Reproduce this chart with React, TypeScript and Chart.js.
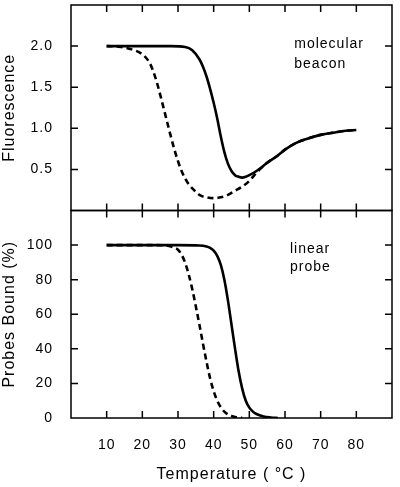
import React, { useEffect, useRef } from "react";
import { Chart, registerables } from "chart.js";

Chart.register(...registerables);

// ---- Data ----
const tempTicks = [10, 20, 30, 40, 50, 60, 70, 80];
const fluorTicks = [0.5, 1.0, 1.5, 2.0];
const boundTicks = [0, 20, 40, 60, 80, 100];

// Top panel: molecular beacon (solid = perfectly matched, dashed = mismatched)
const beaconSolidT = [10, 20, 28, 32, 34, 36, 37, 38, 39, 40, 41, 42, 43, 44, 45, 46, 47, 48, 49, 50, 52, 55, 58, 60, 63, 66, 70, 74, 77, 80];
const beaconSolidF = [2.0, 2.0, 2.0, 1.99, 1.95, 1.84, 1.75, 1.63, 1.48, 1.31, 1.12, 0.90, 0.71, 0.57, 0.48, 0.43, 0.41, 0.40, 0.41, 0.43, 0.48, 0.58, 0.67, 0.74, 0.82, 0.87, 0.92, 0.95, 0.97, 0.98];
const beaconDashT = [10, 14, 17, 20, 22, 23, 24, 25, 26, 27, 28, 29, 30, 31, 32, 33, 34, 36, 38, 40, 42, 44, 46, 48, 50, 52, 55, 58, 60, 63, 66, 70, 74, 77, 80];
const beaconDashF = [2.0, 1.99, 1.96, 1.90, 1.80, 1.70, 1.57, 1.41, 1.24, 1.07, 0.90, 0.74, 0.60, 0.48, 0.39, 0.32, 0.27, 0.19, 0.16, 0.15, 0.16, 0.19, 0.24, 0.29, 0.36, 0.46, 0.58, 0.67, 0.74, 0.82, 0.87, 0.92, 0.95, 0.97, 0.98];

// Bottom panel: linear probe (% bound)
const linearSolidT = [10, 30, 36, 38, 39, 40, 41, 42, 43, 44, 45, 46, 47, 48, 49, 50, 51, 52, 54, 56, 58];
const linearSolidB = [100, 100, 99.8, 99.2, 98.4, 96.8, 93.8, 88.5, 80, 68, 54, 40, 27, 17, 10, 6, 3.7, 2.3, 0.9, 0.3, 0];
const linearDashT = [10, 24, 27, 28, 29, 30, 31, 32, 33, 34, 35, 36, 37, 38, 39, 40, 41, 42, 43, 44, 45, 46, 48];
const linearDashB = [100, 100, 99.6, 99.2, 98.5, 97.3, 94.5, 89.8, 83, 74.5, 64.5, 54, 43, 32.5, 23, 15.5, 10, 6.2, 3.7, 2.1, 1.2, 0.6, 0];

const beaconLabel = ["molecular", "beacon"];
const probeLabel = ["linear", "probe"];
const yTitleTop = "Fluorescence";
const yTitleBottom = "Probes Bound (%)";
const xTitle = "Temperature ( °C )";

const FONT = "'Liberation Sans', Arial, Helvetica, sans-serif";

const pts = (xs: number[], ys: number[]) => xs.map((x, i) => ({ x, y: ys[i] }));

const solidStyle = {
  borderColor: "#000",
  borderWidth: 2.6,
  pointRadius: 0,
  fill: false,
  cubicInterpolationMode: "monotone" as const,
};
const dashStyle = { ...solidStyle, borderDash: [6, 4] };

const noPad = (s: any) => {
  s.paddingTop = 0;
  s.paddingBottom = 0;
  s.paddingLeft = 0;
  s.paddingRight = 0;
};

function framePlugin(yTickVals: number[], label: string[], labelPos: { x: number; y: number; dy: number }) {
  return {
    id: "frame",
    beforeDraw(chart: any) {
      chart.ctx.letterSpacing = "1px";
    },
    afterDatasetsDraw(chart: any) {
      const { ctx, chartArea } = chart;
      const { left, right, top, bottom } = chartArea;
      const x = chart.scales.x;
      const y = chart.scales.y;
      ctx.save();
      ctx.strokeStyle = "#000";
      ctx.lineWidth = 1.5;
      ctx.strokeRect(left, top, right - left, bottom - top);
      ctx.beginPath();
      const L = 7;
      for (const v of tempTicks) {
        const px = x.getPixelForValue(v);
        ctx.moveTo(px, top);
        ctx.lineTo(px, top + L);
        ctx.moveTo(px, bottom);
        ctx.lineTo(px, bottom - L);
      }
      for (const v of yTickVals) {
        if (v <= y.min || v >= y.max) continue;
        const py = y.getPixelForValue(v);
        ctx.moveTo(left, py);
        ctx.lineTo(left + L, py);
        ctx.moveTo(right, py);
        ctx.lineTo(right - L, py);
      }
      ctx.stroke();
      ctx.fillStyle = "#000";
      ctx.font = `14px ${FONT}`;
      ctx.textAlign = "left";
      ctx.textBaseline = "alphabetic";
      const lx = x.getPixelForValue(labelPos.x);
      const ly = y.getPixelForValue(labelPos.y);
      label.forEach((t, i) => ctx.fillText(t, lx, ly + i * labelPos.dy));
      ctx.restore();
    },
  };
}

export default function App() {
  const topRef = useRef<HTMLCanvasElement>(null);
  const botRef = useRef<HTMLCanvasElement>(null);

  useEffect(() => {
    const tickFont = { size: 14, family: FONT };
    const titleFont = { size: 16, family: FONT };

    const top = new Chart(topRef.current!, {
      type: "line",
      data: {
        datasets: [
          { ...solidStyle, data: pts(beaconSolidT, beaconSolidF) },
          { ...dashStyle, data: pts(beaconDashT, beaconDashF) },
        ],
      },
      options: {
        animation: false,
        responsive: false,
        maintainAspectRatio: false,
        layout: { autoPadding: false, padding: { top: 5, right: 8, bottom: 1.5, left: 0 } },
        plugins: { legend: { display: false }, tooltip: { enabled: false } },
        scales: {
          x: { type: "linear", min: 0, max: 90, display: false },
          y: {
            type: "linear",
            min: 0,
            max: 2.5,
            afterFit: (s: any) => {
              s.width = 71;
              noPad(s);
            },
            grid: { display: false },
            border: { display: false },
            ticks: {
              stepSize: 0.5,
              padding: 10,
              color: "#000",
              font: tickFont,
              callback: (v: any) => (fluorTicks.some((t) => Math.abs(t - v) < 1e-6) ? Number(v).toFixed(1) : null),
            },
            title: { display: true, text: yTitleTop, color: "#000", font: titleFont, padding: 0 },
          },
        },
      } as any,
      plugins: [framePlugin(fluorTicks, beaconLabel, { x: 62.6, y: 1.98, dy: 20 })],
    });

    const bot = new Chart(botRef.current!, {
      type: "line",
      data: {
        datasets: [
          { ...solidStyle, data: pts(linearSolidT, linearSolidB) },
          { ...dashStyle, data: pts(linearDashT, linearDashB) },
        ],
      },
      options: {
        animation: false,
        responsive: false,
        maintainAspectRatio: false,
        layout: { autoPadding: false, padding: { top: 1.5, right: 8, bottom: 0, left: 0 } },
        plugins: { legend: { display: false }, tooltip: { enabled: false } },
        scales: {
          x: {
            type: "linear",
            min: 0,
            max: 90,
            afterFit: (s: any) => {
              s.height = 69;
              noPad(s);
            },
            grid: { display: false },
            border: { display: false },
            ticks: {
              stepSize: 10,
              padding: 11,
              color: "#000",
              font: tickFont,
              maxRotation: 0,
              autoSkip: false,
              callback: (v: any) => (tempTicks.includes(Number(v)) ? String(v) : null),
            },
            title: { display: true, text: xTitle, color: "#000", font: titleFont, padding: { top: 0, bottom: 3 } },
          },
          y: {
            type: "linear",
            min: 0,
            max: 120,
            afterFit: (s: any) => {
              s.width = 71;
              noPad(s);
            },
            grid: { display: false },
            border: { display: false },
            ticks: {
              stepSize: 20,
              padding: 10,
              color: "#000",
              font: tickFont,
              callback: (v: any) => (boundTicks.includes(Number(v)) ? String(v) : null),
            },
            title: { display: true, text: yTitleBottom, color: "#000", font: titleFont, padding: 0 },
          },
        },
      } as any,
      plugins: [framePlugin(boundTicks, probeLabel, { x: 61.4, y: 95.6, dy: 18.5 })],
    });

    return () => {
      top.destroy();
      bot.destroy();
    };
  }, []);

  return (
    <div style={{ position: "absolute", left: 0, top: 0, width: 400, height: 487, background: "#fff" }}>
      <canvas ref={topRef} width={400} height={212} style={{ position: "absolute", left: 0, top: 0, width: 400, height: 212 }} />
      <canvas ref={botRef} width={400} height={278} style={{ position: "absolute", left: 0, top: 209, width: 400, height: 278 }} />
    </div>
  );
}
